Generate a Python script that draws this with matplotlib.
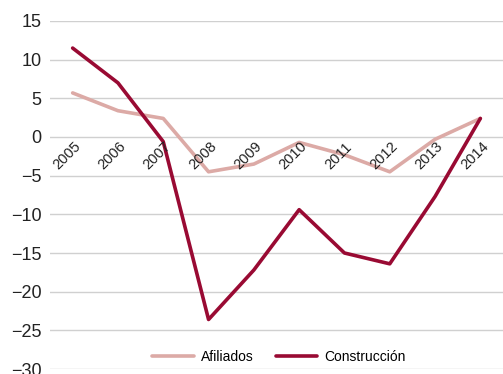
import matplotlib
matplotlib.use("Agg")
import matplotlib.pyplot as plt

years = ["2005", "2006", "2007", "2008", "2009", "2010", "2011", "2012", "2013", "2014"]
afiliados = [5.7, 3.4, 2.4, -4.5, -3.5, -0.7, -2.3, -4.5, -0.3, 2.4]
construccion = [11.5, 7.0, -0.6, -23.6, -17.2, -9.4, -15.0, -16.4, -7.7, 2.4]
yticks = [15, 10, 5, 0, -5, -10, -15, -20, -25, -30]

plt.rcParams['font.family'] = ['Liberation Sans', 'DejaVu Sans']

fig = plt.figure(figsize=(5.03, 3.74), dpi=100)
ax = fig.add_axes([50 / 503, 5 / 374, 453 / 503, 348 / 374])

x = list(range(len(years)))
ax.plot(x, afiliados, color='#dcaaa6', lw=2.6, label='Afiliados', solid_capstyle='round')
ax.plot(x, construccion, color='#990a33', lw=2.6, label='Construcción', solid_capstyle='round')

ax.set_xlim(-0.5, len(years) - 0.5)
ax.set_ylim(-30, 15)
ax.set_yticks(yticks)
ax.set_yticklabels([str(v).replace('-', '\u2212') for v in yticks], fontsize=13, color='#222222')
ax.tick_params(axis='y', length=0, pad=6)
ax.set_xticks([])
ax.grid(axis='y', color='#d0d0d0', lw=1)
ax.set_axisbelow(True)
for s in ax.spines.values():
    s.set_visible(False)

# year labels hang just under the zero line
for i, yr in enumerate(years):
    ax.text(i - 0.13, -2.4, yr, rotation=45, ha='center', va='center',
            fontsize=10.5, color='#222222')

leg = ax.legend(loc='center', bbox_to_anchor=(0.505, 0.035), ncol=2, frameon=False,
                fontsize=10, handlelength=3.0, columnspacing=1.6, handletextpad=0.5)

fig.savefig("out.png", dpi=100)
